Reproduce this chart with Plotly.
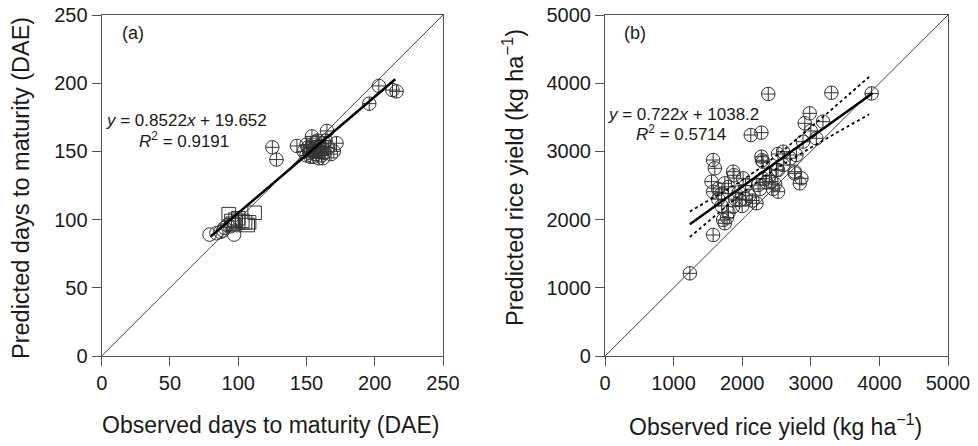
import numpy as np
import plotly.graph_objects as go

# ---------------- Panel (a): days to maturity ----------------
a_cross_obs = [125, 128, 143, 148, 150, 151, 152, 153, 154, 155, 155, 156, 157, 157, 158, 159, 160, 160,
               161, 162, 163, 163, 164, 165, 166, 168, 170, 172, 154, 158, 150, 153, 162, 196, 203, 213, 216]
a_cross_pred = [153, 144, 154, 150, 147, 153, 149, 152, 155, 150, 146, 153, 148, 157, 151, 145, 150, 154,
                147, 152, 149, 156, 158, 165, 153, 148, 150, 156, 161, 158, 155, 146, 145, 185, 198, 195, 194]
a_sq_obs = [93, 95, 96, 98, 100, 103, 105, 107, 108, 112, 97, 100]
a_sq_pred = [104, 99, 97, 100, 98, 99, 98, 96, 98, 105, 96, 101]
a_circ_obs = [79, 84, 87, 89, 90, 92, 97, 94]
a_circ_pred = [89, 90, 91, 92, 94, 96, 89, 95]
a_slope, a_intercept = 0.8522, 19.652
a_fit_range = [80, 215]
a_ticks = [0, 50, 100, 150, 200, 250]

# ---------------- Panel (b): rice yield ----------------
b_obs = [1237, 1576, 1722, 1747, 1780, 1577, 1553, 1601, 1576, 1650, 1700, 1747, 1800, 1868, 1880, 1868,
         1900, 1965, 1950, 2013, 2050, 2100, 2150, 2208, 2232, 2260, 2300, 2305, 2290, 2280, 2350, 2400,
         2426, 2450, 2480, 2523, 2499, 2522, 2523, 2595, 2700, 2766, 2766, 2790, 2839, 2863, 2887, 2912,
         2984, 3081, 3000, 3178, 2125, 2280, 2380, 3300, 3887, 1700, 1800, 1650, 2000, 2050, 2600]
b_pred = [1212, 1774, 1994, 1946, 2030, 2409, 2556, 2752, 2874, 2450, 2380, 2532, 2480, 2703, 2650, 2190,
          2300, 2287, 2400, 2605, 2500, 2350, 2280, 2239, 2507, 2450, 2600, 2849, 2870, 2922, 2550, 2650,
          2556, 2450, 2520, 2409, 2727, 2962, 2727, 2996, 2900, 2703, 2678, 2947, 2532, 2605, 3143, 3412,
          3558, 3192, 3300, 3436, 3240, 3275, 3842, 3860, 3850, 2200, 2100, 2300, 2200, 2300, 2800]
b_slope, b_intercept = 0.722, 1038.2
b_fit_range = [1237, 3900]
b_band_range = [1237, 3850]
b_ticks = [0, 1000, 2000, 3000, 4000, 5000]

FONT = "Liberation Sans, Arial, Helvetica, sans-serif"
INK = "#1a1a1a"
AXC = "#555555"
MK = "#333333"

fig = go.Figure()

# 1:1 lines
fig.add_trace(go.Scatter(x=[0, 250], y=[0, 250], mode="lines", line=dict(color="#444", width=1),
                         xaxis="x", yaxis="y", showlegend=False, hoverinfo="skip"))
fig.add_trace(go.Scatter(x=[0, 5000], y=[0, 5000], mode="lines", line=dict(color="#444", width=1),
                         xaxis="x2", yaxis="y2", showlegend=False, hoverinfo="skip"))

def mk(symbol):
    return dict(symbol=symbol, size=13.5, color=MK, line=dict(color=MK, width=1))

fig.add_trace(go.Scatter(x=a_circ_obs, y=a_circ_pred, mode="markers",
                         marker=mk("circle-open"), xaxis="x", yaxis="y", showlegend=False))
fig.add_trace(go.Scatter(x=a_sq_obs, y=a_sq_pred, mode="markers",
                         marker=mk("square-open"), xaxis="x", yaxis="y", showlegend=False))
fig.add_trace(go.Scatter(x=a_cross_obs, y=a_cross_pred, mode="markers",
                         marker=mk("circle-cross-open"), xaxis="x", yaxis="y", showlegend=False))
ax_fit = np.array(a_fit_range, dtype=float)
fig.add_trace(go.Scatter(x=ax_fit, y=a_slope * ax_fit + a_intercept, mode="lines",
                         line=dict(color="black", width=2.5), xaxis="x", yaxis="y", showlegend=False))

fig.add_trace(go.Scatter(x=b_obs, y=b_pred, mode="markers",
                         marker=mk("circle-cross-open"), xaxis="x2", yaxis="y2", showlegend=False))
bx_fit = np.array(b_fit_range, dtype=float)
fig.add_trace(go.Scatter(x=bx_fit, y=b_slope * bx_fit + b_intercept, mode="lines",
                         line=dict(color="black", width=2.5), xaxis="x2", yaxis="y2", showlegend=False))

# 95% confidence band of the regression (computed from the data)
bo = np.array(b_obs, float)
bp = np.array(b_pred, float)
n = len(bo)
resid = bp - (b_slope * bo + b_intercept)
se = np.sqrt(np.sum(resid ** 2) / (n - 2))
xbar = bo.mean()
sxx = np.sum((bo - xbar) ** 2)
xb = np.linspace(b_band_range[0], b_band_range[1], 60)
half = 2.0 * se * np.sqrt(1.0 / n + (xb - xbar) ** 2 / sxx)
yb = b_slope * xb + b_intercept
for sgn in (1, -1):
    fig.add_trace(go.Scatter(x=xb, y=yb + sgn * half, mode="lines",
                             line=dict(color="black", width=1.8, dash="dot"),
                             xaxis="x2", yaxis="y2", showlegend=False, hoverinfo="skip"))

ybot = (446 - 356) / 446
ytop = (446 - 15) / 446
common = dict(showline=True, mirror=True, linecolor=AXC, linewidth=1.2, ticks="outside", ticklen=9,
              tickcolor=AXC, tickwidth=1.2, showgrid=False, zeroline=False, automargin=False,
              tickfont=dict(family=FONT, size=20, color=INK))

fig.update_layout(
    template="none",
    width=978, height=446, margin=dict(l=0, r=0, t=0, b=0, pad=0),
    paper_bgcolor="white", plot_bgcolor="white",
    xaxis=dict(domain=[101.7 / 978, 443 / 978], range=[0, 250], tickvals=a_ticks, anchor="y", **common),
    yaxis=dict(domain=[ybot, ytop], range=[0, 250], tickvals=a_ticks, anchor="x", **common),
    xaxis2=dict(domain=[605 / 978, 948 / 978], range=[0, 5000], tickvals=b_ticks, anchor="y2", **common),
    yaxis2=dict(domain=[ybot, ytop], range=[0, 5000], tickvals=b_ticks, anchor="x2", **common),
)

def ann(text, x, y, xref, yref, size, **kw):
    fig.add_annotation(text=text, x=x, y=y, xref=xref, yref=yref, showarrow=False,
                       xanchor="center", yanchor="middle",
                       font=dict(family=FONT, size=size, color=INK), **kw)

ann("(a)", 23, 237, "x", "y", 18)
ann("(b)", 437, 4736, "x2", "y2", 18)
ann("<i>y</i> = 0.8522<i>x</i> + 19.652", 62, 173, "x", "y", 17)
ann("<i>R</i><sup>2</sup> = 0.9191", 60, 158, "x", "y", 17)
ann("<i>y</i> = 0.722<i>x</i> + 1038.2", 1137, 3534, "x2", "y2", 17)
ann("<i>R</i><sup>2</sup> = 0.5714", 1108, 3270, "x2", "y2", 17)

ann("Observed days to maturity (DAE)", 270 / 978, 1 - 425 / 446, "paper", "paper", 23)
ann("Observed rice yield (kg ha<sup>−1</sup>)", 775 / 978, 1 - 425 / 446, "paper", "paper", 23)
ann("Predicted days to maturity (DAE)", 21 / 978, 1 - 188 / 446, "paper", "paper", 23.5, textangle=-90)
ann("Predicted rice yield (kg ha<sup>−1</sup>)", 513 / 978, 1 - 178 / 446, "paper", "paper", 23.5, textangle=-90)

fig.write_html("out.html")
